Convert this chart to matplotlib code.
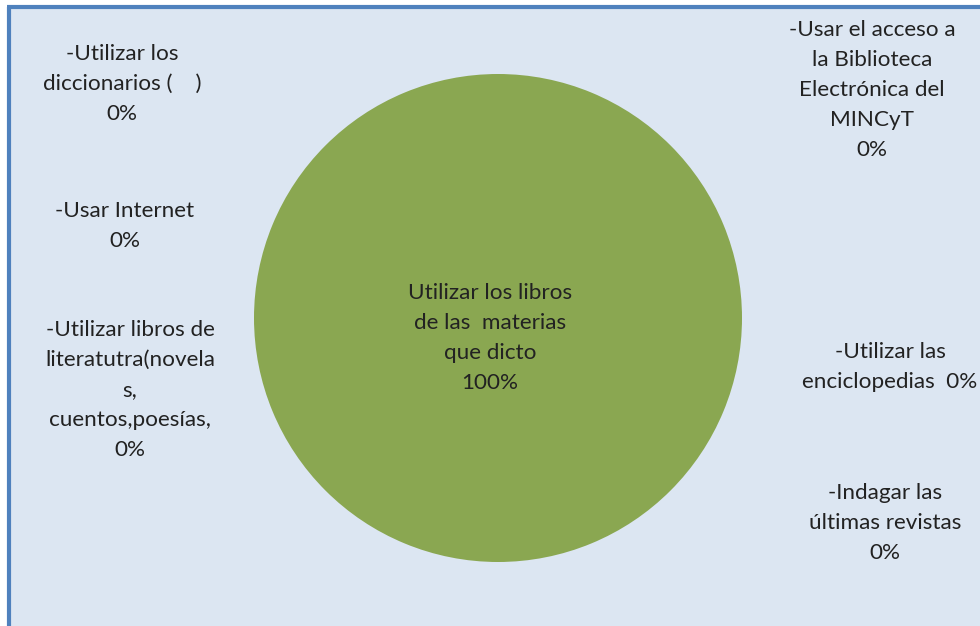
import matplotlib.pyplot as plt
from matplotlib.patches import Rectangle

# Datos del grafico
etiquetas = [
    'Utilizar los libros\nde las  materias\nque dicto',
    '-Usar el acceso a\nla Biblioteca\nElectrónica del\nMINCyT',
    '-Utilizar las\nenciclopedias ',
    '-Indagar las\núltimas revistas',
    '-Utilizar libros de\nliteratutra(novela\ns,\ncuentos,poesías,',
    '-Usar Internet',
    '-Utilizar los\ndiccionarios (    )',
]
valores = [100, 0, 0, 0, 0, 0, 0]
porcentajes = ['100%', '0%', '0%', '0%', '0%', '0%', '0%']
separador = ['\n', '\n', ' ', '\n', '\n', '\n', '\n']

# posiciones de las etiquetas (pixeles)
pos_etiquetas = [
    (490, 338), (872, 90), (890, 367), (885, 523),
    (130, 390), (125, 226), (122, 84),
]

W, H = 980, 626
fondo = '#dce6f2'
verde = '#8aa751'
azul = '#4f81bd'

plt.rcParams['font.family'] = ['Lato', 'DejaVu Sans']

fig = plt.figure(figsize=(W / 100, H / 100), dpi=100)
fig.patch.set_facecolor('white')

# fondo del area del grafico
fig.patches.append(Rectangle((8 / W, 0), 1, 1 - 7 / H, transform=fig.transFigure,
                             facecolor=fondo, edgecolor='none', zorder=-5))
fig.add_artist(plt.Line2D([8.5 / W, 8.5 / W], [0, 1 - 7 / H], color=azul, lw=3,
                          transform=fig.transFigure, solid_capstyle='butt'))
fig.add_artist(plt.Line2D([6.5 / W, 1], [1 - 7 / H, 1 - 7 / H], color=azul, lw=3,
                          transform=fig.transFigure, solid_capstyle='butt'))

# circulo (torta)
cx, cy, r = 498, 318, 244
ax = fig.add_axes([(cx - r) / W, (H - cy - r) / H, 2 * r / W, 2 * r / H])
ax.patch.set_visible(False)
colores = [verde] * len(valores)
ax.pie(valores, colors=colores, startangle=90, counterclock=False, radius=1,
       wedgeprops=dict(linewidth=0))
ax.set_xlim(-1, 1)
ax.set_ylim(-1, 1)
ax.set_aspect('equal')
ax.axis('off')

for et, pc, sep, (x, y) in zip(etiquetas, porcentajes, separador, pos_etiquetas):
    fig.text(x / W, 1 - y / H, et + sep + pc, ha='center', va='center',
             multialignment='center', fontsize=16.2, color='#222222',
             linespacing=1.63, zorder=5)

fig.savefig('out.png', dpi=100, facecolor=fig.get_facecolor())
